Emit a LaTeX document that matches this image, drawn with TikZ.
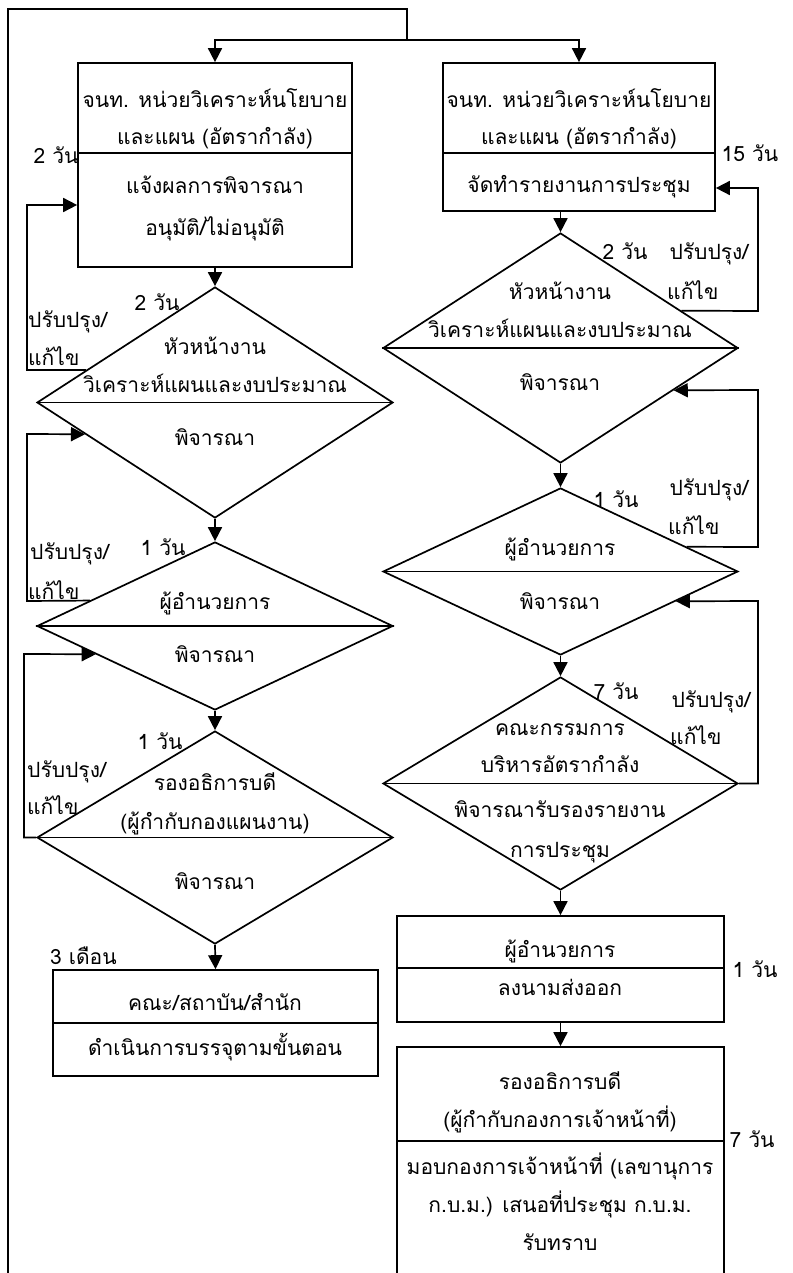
\documentclass[tikz,border=0pt]{standalone}
\usepackage{fontspec}
\setmainfont[Script=Thai]{Loma}
\usetikzlibrary{shapes.geometric,arrows.meta,calc}
\begin{document}
\begin{tikzpicture}[x=1pt,y=-1pt,
  ln/.style={line width=1.7pt},
  arr/.style={ln,-{Triangle[length=14pt,width=14pt]}},
  box/.style={draw,ln,rectangle,inner sep=0pt},
  dia/.style={draw,ln,diamond,inner sep=0pt},
  tx/.style={anchor=base,inner sep=0pt,font=\fontsize{21}{25}\selectfont}]
\useasboundingbox (0,0) rectangle (792,1273);
\clip (0,0) rectangle (792,1273);
% boxes
\node[box,minimum width=274pt,minimum height=204pt] (lb1) at (215,165) {};
\node[box,minimum width=272pt,minimum height=148pt] (rb1) at (579,137) {};
\node[box,minimum width=325pt,minimum height=106pt] (lb2) at (215.5,1023) {};
\node[box,minimum width=327pt,minimum height=106pt] (rb3) at (560.5,969) {};
\node[box,minimum width=327pt,minimum height=260pt] (rb4) at (560.5,1177) {};
% dividers
\draw[ln] (lb1.west |- 0,153) -- (lb1.east |- 0,153);
\draw[ln] (rb1.west |- 0,153) -- (rb1.east |- 0,153);
\draw[ln] (lb2.west |- 0,1023) -- (lb2.east |- 0,1023);
\draw[ln] (rb3.west |- 0,968) -- (rb3.east |- 0,968);
\draw[ln] (rb4.west |- 0,1141) -- (rb4.east |- 0,1141);
% diamonds
\node[dia,minimum width=356pt,minimum height=231pt] (ld1) at (215,402.5) {};
\node[dia,minimum width=356pt,minimum height=168pt] (ld2) at (215,626) {};
\node[dia,minimum width=356pt,minimum height=213pt] (ld3) at (215,837.5) {};
\node[dia,minimum width=355pt,minimum height=230pt] (rd1) at (560.5,348) {};
\node[dia,minimum width=355pt,minimum height=167pt] (rd2) at (560.5,571.5) {};
\node[dia,minimum width=355pt,minimum height=213pt] (rd3) at (560.5,783.5) {};
\foreach \d in {ld1,ld2,ld3,rd1,rd2,rd3}{\draw[ln] (\d.west) -- (\d.east);}
% outer loop
\coordinate (bl) at (8,1290);
\coordinate (tl) at (8,9);
\coordinate (tr) at (407,9);
\coordinate (jn) at (407,40);
\draw[ln] (bl) -- (tl) -- (tr) -- (jn);
\draw[arr] (jn) -| (lb1.north);
\draw[arr] (jn) -| (rb1.north);
% main flow
\draw[arr] (lb1.south) -- (ld1.north);
\draw[arr] (ld1.south) -- (ld2.north);
\draw[arr] (ld2.south) -- (ld3.north);
\draw[arr] (ld3.south) -- (lb2.north);
\draw[arr] (rb1.south -| rd1.north) -- (rd1.north);
\draw[arr] (rd1.south) -- (rd2.north);
\draw[arr] (rd2.south) -- (rd3.north);
\draw[arr] (rd3.south) -- (rb3.north);
\draw[arr] (rb3.south) -- (rb4.north);
% feedback left
\coordinate (f1) at ($(ld1.north)!0.72!(ld1.west)$);
\coordinate (g1) at (lb1.west |- 0,205);
\draw[arr] (f1) -- (27,370) -- (27,205) -- (g1);
\coordinate (f2) at ($(ld2.north)!0.70!(ld2.west)$);
\coordinate (g2) at ($(ld1.west)!0.273!(ld1.south)$);
\draw[arr] (f2) -- (27,601) -- (27,434) -- (g2);
\coordinate (g3) at ($(ld2.west)!0.333!(ld2.south)$);
\draw[arr] (ld3.west) -- (24,837.5) -- (24,654) -- (g3);
% feedback right
\coordinate (h1) at ($(rd1.north)!0.678!(rd1.east)$);
\coordinate (k1) at (rb1.east |- 0,188);
\draw[arr] (h1) -- (758,311) -- (758,188) -- (k1);
\coordinate (h2) at ($(rd2.north)!0.707!(rd2.east)$);
\coordinate (k2) at ($(rd1.east)!0.365!(rd1.south)$);
\draw[arr] (h2) -- (758,547) -- (758,390) -- (k2);
\coordinate (k3) at ($(rd2.east)!0.353!(rd2.south)$);
\draw[arr] (rd3.east) -- (758,783.5) -- (758,601) -- (k3);
% texts
\node[tx] (a1) at (215,108) {จนท. หน่วยวิเคราะห์นโยบาย};
\node[tx] (a2) at (215,145) {และแผน (อัตรากำลัง)};
\node[tx] (a3) at (215,194) {แจ้งผลการพิจารณา};
\node[tx] (a4) at (215,236) {อนุมัติ/ไม่อนุมัติ};
\node[tx] (b1) at (579,108) {จนท. หน่วยวิเคราะห์นโยบาย};
\node[tx] (b2) at (579,145) {และแผน (อัตรากำลัง)};
\node[tx] (b3) at (579,193) {จัดทำรายงานการประชุม};
\node[tx] (c1) at (215,354) {หัวหน้างาน};
\node[tx] (c2) at (215,392) {วิเคราะห์แผนและงบประมาณ};
\node[tx] (c3) at (215,445) {พิจารณา};
\node[tx] (c4) at (215,609) {ผู้อำนวยการ};
\node[tx] (c5) at (215,662) {พิจารณา};
\node[tx] (c6) at (215,790) {รองอธิการบดี};
\node[tx] (c7) at (215,829) {(ผู้กำกับกองแผนงาน)};
\node[tx] (c8) at (215,889) {พิจารณา};
\node[tx] (c9) at (215,1010) {คณะ/สถาบัน/สำนัก};
\node[tx] (c10) at (215,1055) {ดำเนินการบรรจุตามขั้นตอน};
\node[tx] (d1) at (560,299) {หัวหน้างาน};
\node[tx] (d2) at (560,337) {วิเคราะห์แผนและงบประมาณ};
\node[tx] (d3) at (560,390) {พิจารณา};
\node[tx] (d4) at (560,555) {ผู้อำนวยการ};
\node[tx] (d5) at (560,609) {พิจารณา};
\node[tx] (d6) at (560,735) {คณะกรรมการ};
\node[tx] (d7) at (560,772) {บริหารอัตรากำลัง};
\node[tx] (d8) at (560,817) {พิจารณารับรองรายงาน};
\node[tx] (d9) at (560,857) {การประชุม};
\node[tx] (d10) at (560,957) {ผู้อำนวยการ};
\node[tx] (d11) at (560,995) {ลงนามส่งออก};
\node[tx] (d12) at (560,1089) {รองอธิการบดี};
\node[tx] (d13) at (560,1127) {(ผู้กำกับกองการเจ้าหน้าที่)};
\node[tx] (d14) at (560,1174) {มอบกองการเจ้าหน้าที่ (เลขานุการ};
\node[tx] (d15) at (560,1212) {ก.บ.ม.) เสนอที่ประชุม ก.บ.ม.};
\node[tx] (d16) at (560,1250) {รับทราบ};
% labels
\node[tx] (l1) at (56,164) {2 วัน};
\node[tx] (l2) at (750,162) {15 วัน};
\node[tx] (l3) at (625,259) {2 วัน};
\node[tx] (l4) at (709,259) {ปรับปรุง/};
\node[tx,anchor=base west] (l5) at (667,299) {แก้ไข};
\node[tx] (l6) at (616,507) {1 วัน};
\node[tx] (l7) at (709,495) {ปรับปรุง/};
\node[tx,anchor=base west] (l8) at (668,534) {แก้ไข};
\node[tx] (l9) at (616,699) {7 วัน};
\node[tx] (l10) at (711,707) {ปรับปรุง/};
\node[tx,anchor=base west] (l11) at (670,744) {แก้ไข};
\node[tx] (l12) at (755,977) {1 วัน};
\node[tx] (l13) at (752,1147) {7 วัน};
\node[tx] (l14) at (157,310) {2 วัน};
\node[tx,anchor=base west] (l15) at (28,327) {ปรับปรุง/};
\node[tx,anchor=base west] (l16) at (28,365) {แก้ไข};
\node[tx] (l17) at (163,555) {1 วัน};
\node[tx,anchor=base west] (l18) at (30,559) {ปรับปรุง/};
\node[tx,anchor=base west] (l19) at (28,599) {แก้ไข};
\node[tx] (l20) at (160,749) {1 วัน};
\node[tx,anchor=base west] (l21) at (27,777) {ปรับปรุง/};
\node[tx,anchor=base west] (l22) at (27,814) {แก้ไข};
\node[tx,anchor=base west] (l23) at (50,964) {3 เดือน};
\end{tikzpicture}
\end{document}
